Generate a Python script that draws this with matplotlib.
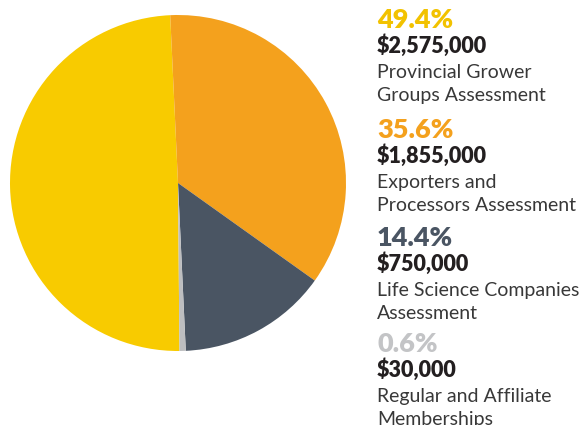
import matplotlib
matplotlib.use("Agg")
import matplotlib.pyplot as plt

# funding sources
percents = ["49.4%", "35.6%", "14.4%", "0.6%"]
shares = [49.4, 35.6, 14.4, 0.6]
amounts = ["$2,575,000", "$1,855,000", "$750,000", "$30,000"]
labels = [
    "Provincial Grower\nGroups Assessment",
    "Exporters and\nProcessors Assessment",
    "Life Science Companies\nAssessment",
    "Regular and Affiliate\nMemberships",
]
colors = ["#F8CB00", "#F4A11D", "#4A5563", "#BDBEC0"]
pct_colors = ["#F2C200", "#F4A11D", "#4A5563", "#C3C4C6"]

W, H = 581, 425
fig = plt.figure(figsize=(W / 100, H / 100), dpi=100)

# pie centred at (178, 183) px, radius 168 px
cx, cy, r = 178, 183, 168
ax = fig.add_axes([(cx - r) / W, 1 - (cy + r) / H, 2 * r / W, 2 * r / H])
ax.pie(shares, colors=colors, startangle=270.5, counterclock=False,
       wedgeprops=dict(linewidth=0))
ax.set_xlim(-1, 1)
ax.set_ylim(-1, 1)
ax.set_aspect("equal")
ax.axis("off")

def px(x, y):
    return x / W, 1 - y / H

x0 = 377
tops = [0, 110, 218, 324]
for i in range(4):
    t = tops[i]
    fig.text(*px(x0, t + 28), percents[i], color=pct_colors[i], fontsize=19.5,
             fontweight="heavy", family="Lato", va="baseline")
    fig.text(*px(x0, t + 53), amounts[i], color="#231F20", fontsize=15.5,
             fontweight="heavy", family="Lato", va="baseline")
    l1, l2 = labels[i].split("\n")
    fig.text(*px(x0, t + 78), l1, color="#383838", fontsize=14,
             fontweight="normal", family="Lato", va="baseline")
    fig.text(*px(x0, t + 101), l2, color="#383838", fontsize=14,
             fontweight="normal", family="Lato", va="baseline")

fig.savefig("out.png", dpi=100, facecolor="white")
